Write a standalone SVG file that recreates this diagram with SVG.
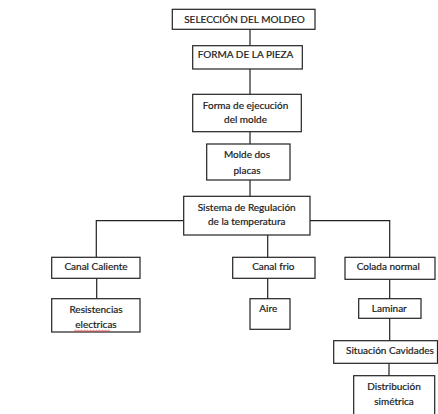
<svg xmlns="http://www.w3.org/2000/svg" width="438" height="414" viewBox="0 0 438 414">
<style>
.b{fill:#fff;stroke:#222;stroke-width:1.2}
.c{fill:none;stroke:#222;stroke-width:1.2}
text{font-family:Lato,"Liberation Sans",sans-serif;font-size:10px;fill:#1a1a1a;stroke:#1a1a1a;stroke-width:0.2;text-anchor:middle}
</style>
<rect width="438" height="414" fill="#fff"/>
<g id="connectors">
<path class="c" d="M250 29.3V45.7M250 69V94.3M250 131.7V144M250 180V196.3"/>
<path class="c" d="M183.7 220.7H96.3V257.3M310 220.7H389.7V257.3M267.7 235V257.3"/>
<path class="c" d="M96.7 278.3V298.7M267.7 278.3V298.7M389.7 279.3V298.7M389.7 318.3V340.7M389 363.3V375.7"/>
</g>
<g id="n1"><rect class="b" x="172.3" y="9.3" width="142.7" height="20"/><text x="244.5" y="22.5">SELECCIÓN DEL MOLDEO</text></g>
<g id="n2"><rect class="b" x="192.7" y="45.7" width="109.6" height="23.3"/><text x="245.5" y="58.3">FORMA DE LA PIEZA</text></g>
<g id="n3"><rect class="b" x="192.7" y="94.3" width="108.6" height="37.4"/><text x="245.5" y="108.5">Forma de ejecución</text><text x="245.5" y="123">del molde</text></g>
<g id="n4"><rect class="b" x="206.7" y="144" width="83.3" height="36"/><text x="247" y="158">Molde dos</text><text x="247" y="173.5">placas</text></g>
<g id="n5"><rect class="b" x="183.7" y="196.3" width="126.3" height="38.7"/><text x="246.7" y="210.5">Sistema de Regulación</text><text x="246.7" y="225">de la temperatura</text></g>
<g id="n6"><rect class="b" x="51.7" y="257.3" width="88.3" height="21"/><text x="96" y="270.3">Canal Caliente</text></g>
<g id="n7"><rect class="b" x="51.7" y="298.7" width="88.3" height="33.3"/><text x="96" y="313">Resistencias</text><text x="96" y="328">electricas</text><path d="M74 331.5l1.5-1.2 1.5 1.2 1.5-1.2 1.5 1.2 1.5-1.2 1.5 1.2 1.5-1.2 1.5 1.2 1.5-1.2 1.5 1.2 1.5-1.2 1.5 1.2 1.5-1.2 1.5 1.2 1.5-1.2 1.5 1.2 1.5-1.2 1.5 1.2 1.5-1.2 1.5 1.2 1.5-1.2 1.5 1.2 1.5-1.2 1.5 1.2" fill="none" stroke="#e02020" stroke-width="0.8"/></g>
<g id="n8"><rect class="b" x="232.7" y="257.3" width="82.3" height="21"/><text x="273.3" y="270.3">Canal frio</text></g>
<g id="n9"><rect class="b" x="250" y="298.7" width="40" height="30.6"/><text x="268.3" y="312">Aire</text></g>
<g id="n10"><rect class="b" x="345" y="257.3" width="90" height="22"/><text x="388.3" y="270.3">Colada normal</text></g>
<g id="n11"><rect class="b" x="358.7" y="298.7" width="62.3" height="19.6"/><text x="389.3" y="312">Laminar</text></g>
<g id="n12"><rect class="b" x="333.7" y="340.7" width="103.8" height="22.6"/><text x="390" y="354">Situación Cavidades</text></g>
<g id="n13"><rect class="b" x="353.7" y="375.7" width="81" height="45"/><text x="394" y="390">Distribución</text><text x="394" y="405">simétrica</text></g>
</svg>
